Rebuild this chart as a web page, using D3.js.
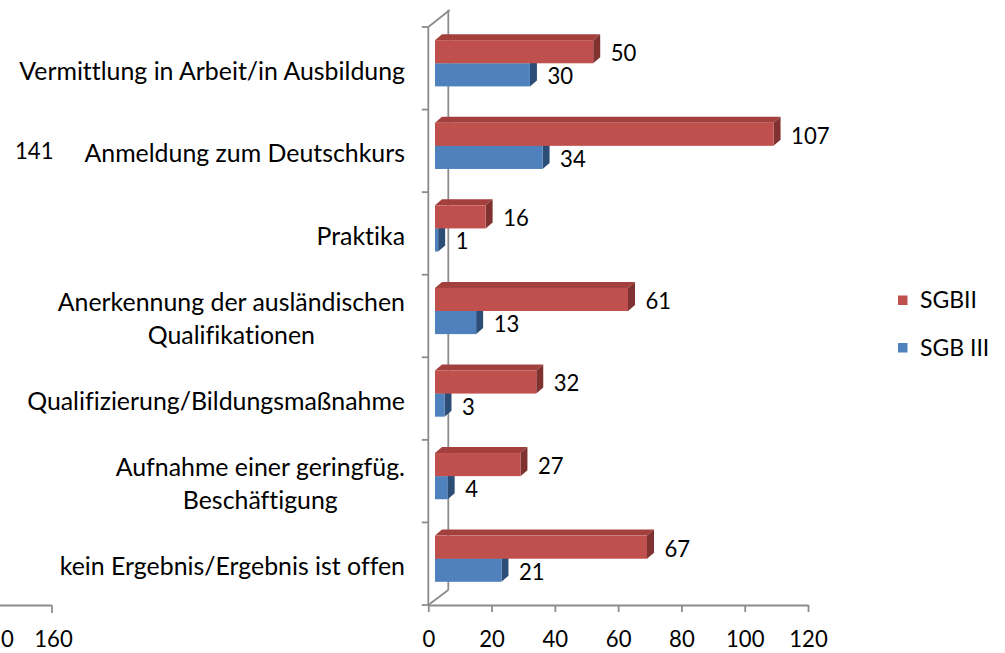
<!DOCTYPE html>
<html><head><meta charset="utf-8">
<script src="https://cdn.jsdelivr.net/npm/d3@7"></script>
<style>html,body{margin:0;padding:0;background:#fff;overflow:hidden}
text{font-variant-ligatures:none;font-feature-settings:"liga" 0,"clig" 0}</style>
</head><body>
<svg id="chart" width="1005" height="653"></svg>
<script>
// ---- data ----
const categories = [
  "Vermittlung in Arbeit/in Ausbildung",
  "Anmeldung zum Deutschkurs",
  "Praktika",
  "Anerkennung der ausländischen\nQualifikationen",
  "Qualifizierung/Bildungsmaßnahme",
  "Aufnahme einer geringfüg.\nBeschäftigung",
  "kein Ergebnis/Ergebnis ist offen"
];
const seriesNames = ["SGBII", "SGB III"];
const sgbII  = [50, 107, 16, 61, 32, 27, 67];
const sgbIII = [30, 34, 1, 13, 3, 4, 21];
const xTicks = [0, 20, 40, 60, 80, 100, 120];
// fragments of a neighbouring chart, clipped at the left edge
const strayValue = ["141"];
const strayTicks = ["0", "160"];

// ---- styles ----
const FONT = "Lato, 'Open Sans', sans-serif";
const colors = {
  SGBII:   {front: "#C0504D", top: "#A3403D", side: "#7F3230"},
  "SGB III": {front: "#4F81BD", top: "#3F6CA3", side: "#2C4D75"}
};
const axisColor = "#8c8c8c";

const svg = d3.select("#chart");

function measure(text, size) {
  const t = svg.append("text").attr("font-family", FONT).attr("font-size", size).text(text);
  const w = t.node().getComputedTextLength();
  t.remove();
  return w;
}
const catSize = 100 * 386 / measure("Vermittlung in Arbeit/in Ausbildung", 100);
const numSize = 100 * 38.5 / measure("120", 100);
const legSize = 100 * 57 / measure("SGBII", 100);

// ---- scales ----
const x = d3.scaleLinear().domain([0, 120]).range([428.3, 808]);
const y = d3.scaleBand().domain(categories).range([27, 605]).padding(0);
const bw = y.bandwidth();
const ys = d3.scaleBand().domain(seriesNames).range([bw * 0.5 - 23.1, bw * 0.5 + 23.1]);

// 3D offsets
const wall = {dx: 20, dy: -15};
const barFront = {dx: 6.7, dy: -5};
const barDepth = {dx: 7, dy: -6};

// ---- walls / axes ----
const g = svg.append("g");
g.append("line").attr("x1", x(0) + wall.dx).attr("x2", x(0) + wall.dx)
  .attr("y1", 27 + wall.dy - 2).attr("y2", 605 + wall.dy)
  .attr("stroke", axisColor).attr("stroke-width", 1.8);
g.append("line").attr("x1", x(0)).attr("y1", 605).attr("x2", x(0) + wall.dx).attr("y2", 605 + wall.dy)
  .attr("stroke", axisColor).attr("stroke-width", 1.8);
g.append("line").attr("x1", x(0)).attr("y1", 27).attr("x2", x(0) + wall.dx + 1.5).attr("y2", 27 + wall.dy - 2)
  .attr("stroke", axisColor).attr("stroke-width", 1.8);
g.append("line").attr("x1", x(0)).attr("x2", x(0)).attr("y1", 27).attr("y2", 605)
  .attr("stroke", axisColor).attr("stroke-width", 1.8);
const bounds = categories.map(c => y(c)).concat([y.range()[1]]);
g.selectAll("line.ct").data(bounds).join("line").attr("class", "ct")
  .attr("x1", x(0) - 6.5).attr("x2", x(0)).attr("y1", d => d).attr("y2", d => d)
  .attr("stroke", axisColor).attr("stroke-width", 1.8);

// bottom axis
const xAxis = d3.axisBottom(x).tickValues(xTicks).tickSize(7).tickSizeOuter(0);
const ax = svg.append("g").attr("transform", "translate(0,605)").call(xAxis);
ax.select(".domain").attr("stroke", axisColor).attr("stroke-width", 1.8);
ax.selectAll(".tick line").attr("stroke", axisColor).attr("stroke-width", 1.8);
ax.selectAll(".tick text").attr("font-family", FONT).attr("font-size", numSize)
  .attr("fill", "#000").attr("dy", null).attr("y", 42);

// ---- bars ----
const rows = [];
categories.forEach((c, i) => {
  rows.push({cat: c, s: "SGB III", v: sgbIII[i]});
  rows.push({cat: c, s: "SGBII", v: sgbII[i]});
});
const bars = svg.append("g").selectAll("g").data(rows).join("g");
bars.each(function(d) {
  const el = d3.select(this);
  const x0 = x(0) + barFront.dx, x1 = x(d.v) + barFront.dx;
  const y0 = y(d.cat) + ys(d.s) + barFront.dy, h = ys.bandwidth();
  const c = colors[d.s];
  el.append("polygon").attr("points", [[x0, y0], [x0 + barDepth.dx, y0 + barDepth.dy], [x1 + barDepth.dx, y0 + barDepth.dy], [x1, y0]].join(" "))
    .attr("fill", c.top);
  el.append("polygon").attr("points", [[x1, y0], [x1 + barDepth.dx, y0 + barDepth.dy], [x1 + barDepth.dx, y0 + h + barDepth.dy], [x1, y0 + h]].join(" "))
    .attr("fill", c.side);
  el.append("rect").attr("x", x0).attr("y", y0).attr("width", Math.max(0, x1 - x0)).attr("height", h)
    .attr("fill", c.front);
  el.append("text").attr("x", x1 + barDepth.dx + 10.5).attr("y", y0 + h / 2 + 1.5 + numSize * 0.36)
    .attr("font-family", FONT).attr("font-size", numSize).attr("fill", "#000").text(d.v);
});

// ---- category labels (block right-aligned, lines centred within block) ----
const lineH = 33;
const labelRight = 405;
svg.append("g").selectAll("text").data(categories).join("text")
  .attr("font-family", FONT).attr("font-size", catSize).attr("fill", "#000").attr("text-anchor", "middle")
  .each(function(c) {
    const lines = c.split("\n");
    const blockW = d3.max(lines, ln => measure(ln, catSize));
    const cx = labelRight - blockW / 2;
    const cy = y(c) + bw / 2 + 2.5;
    const el = d3.select(this);
    lines.forEach((ln, k) => {
      el.append("tspan").attr("x", cx)
        .attr("y", cy + (k - (lines.length - 1) / 2) * lineH + catSize * 0.36).text(ln);
    });
  });

// ---- legend ----
const leg = svg.append("g").selectAll("g").data(seriesNames).join("g")
  .attr("transform", (d, i) => `translate(898,${295.5 + i * 47.5})`);
leg.append("rect").attr("width", 9.5).attr("height", 9.5).attr("fill", d => colors[d].front);
leg.append("text").attr("x", 22).attr("y", 12.5).attr("font-family", FONT).attr("font-size", legSize)
  .attr("fill", "#000").text(d => d);

// ---- stray fragments of the neighbouring chart ----
svg.append("text").attr("x", 15).attr("y", 159).attr("font-family", FONT).attr("font-size", numSize)
  .attr("fill", "#000").text(strayValue[0]);
svg.append("line").attr("x1", 0).attr("x2", 52).attr("y1", 605.5).attr("y2", 605.5)
  .attr("stroke", axisColor).attr("stroke-width", 1.8);
svg.append("line").attr("x1", 52).attr("x2", 52).attr("y1", 605.5).attr("y2", 613)
  .attr("stroke", axisColor).attr("stroke-width", 1.8);
svg.append("text").attr("x", 1).attr("y", 647).attr("font-family", FONT)
  .attr("font-size", numSize).attr("fill", "#000").text(strayTicks[0]);
svg.append("text").attr("x", 53.5).attr("y", 647).attr("text-anchor", "middle").attr("font-family", FONT)
  .attr("font-size", numSize).attr("fill", "#000").text(strayTicks[1]);
</script>
</body></html>
